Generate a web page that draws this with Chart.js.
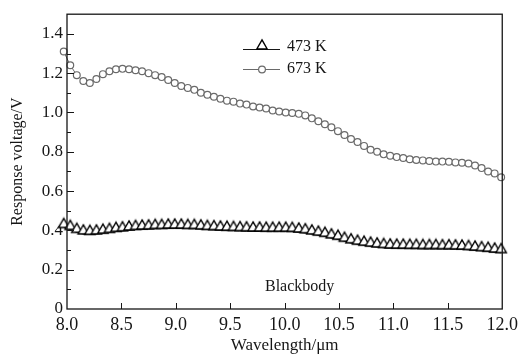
<!DOCTYPE html>
<html>
<head>
<meta charset="utf-8">
<script src="https://cdn.jsdelivr.net/npm/chart.js@4.4.0/dist/chart.umd.min.js"></script>
<style>
  html, body { margin: 0; padding: 0; background: #fff; }
  #wrap { width: 523px; height: 356px; }
</style>
</head>
<body>
<div id="wrap"><canvas id="chart" width="523" height="356"></canvas></div>
<script>
// wavelength samples (um)
const wavelength = [7.97, 8.03, 8.09, 8.15, 8.21, 8.27, 8.33, 8.39, 8.45, 8.51,
  8.57, 8.63, 8.69, 8.75, 8.81, 8.87, 8.93, 8.99, 9.05, 9.11,
  9.17, 9.23, 9.29, 9.35, 9.41, 9.47, 9.53, 9.59, 9.65, 9.71,
  9.77, 9.83, 9.89, 9.95, 10.01, 10.07, 10.13, 10.19, 10.25, 10.31,
  10.37, 10.43, 10.49, 10.55, 10.61, 10.67, 10.73, 10.79, 10.85, 10.91,
  10.97, 11.03, 11.09, 11.15, 11.21, 11.27, 11.33, 11.39, 11.45, 11.51,
  11.57, 11.63, 11.69, 11.75, 11.81, 11.87, 11.93, 11.99];

// response voltage (V) at 473 K
const v473 = [0.415, 0.405, 0.39, 0.382, 0.38, 0.382, 0.386, 0.39, 0.395, 0.398,
  0.402, 0.405, 0.407, 0.408, 0.41, 0.41, 0.412, 0.412, 0.412, 0.41,
  0.41, 0.408, 0.405, 0.404, 0.402, 0.401, 0.40, 0.399, 0.398, 0.397,
  0.397, 0.396, 0.396, 0.396, 0.396, 0.395, 0.392, 0.388, 0.382, 0.376,
  0.37, 0.362, 0.355, 0.345, 0.337, 0.33, 0.325, 0.32, 0.316, 0.313,
  0.311, 0.31, 0.31, 0.309, 0.309, 0.308, 0.308, 0.308, 0.307, 0.307,
  0.306, 0.305, 0.303, 0.30, 0.297, 0.294, 0.29, 0.287];

// response voltage (V) at 673 K
const v673 = [1.31, 1.24, 1.19, 1.16, 1.15, 1.17, 1.195, 1.21, 1.22, 1.222,
  1.22, 1.215, 1.21, 1.20, 1.19, 1.18, 1.165, 1.15, 1.135, 1.125,
  1.115, 1.10, 1.09, 1.08, 1.07, 1.06, 1.055, 1.045, 1.04, 1.03,
  1.025, 1.02, 1.01, 1.005, 1.0, 0.997, 0.993, 0.985, 0.97, 0.955,
  0.94, 0.925, 0.905, 0.885, 0.865, 0.85, 0.83, 0.81, 0.80, 0.787,
  0.78, 0.773, 0.768, 0.762, 0.758, 0.756, 0.753, 0.75, 0.75, 0.749,
  0.746, 0.744, 0.74, 0.73, 0.717, 0.70, 0.69, 0.67];

const seriesNames = ['473 K', '673 K'];
const xTickValues = [8.0, 8.5, 9.0, 9.5, 10.0, 10.5, 11.0, 11.5, 12.0];
const yTickValues = [0, 0.2, 0.4, 0.6, 0.8, 1.0, 1.2, 1.4];

const SERIF = '"Liberation Serif", "DejaVu Serif", serif';
const INK = '#161616';
const GREY = '#6a6a6a';

// triangle marker whose base sits on the data point (like the original plot)
const makeTriangle = () => {
  const c = document.createElement('canvas');
  c.width = 14; c.height = 22;
  const g = c.getContext('2d');
  g.beginPath();
  g.moveTo(7, 1.8);
  g.lineTo(12.2, 11);
  g.lineTo(1.8, 11);
  g.closePath();
  g.fillStyle = '#fff';
  g.fill();
  g.lineWidth = 1.4;
  g.lineJoin = 'miter';
  g.strokeStyle = '#000';
  g.stroke();
  return c;
};
const triangle = makeTriangle();

const framePlugin = {
  id: 'frame',
  afterDraw(chart) {
    const { ctx, chartArea: { left, right, top, bottom }, scales: { x, y } } = chart;
    ctx.save();
    ctx.strokeStyle = INK;
    ctx.lineWidth = 1.3;
    ctx.strokeRect(left, top, right - left, bottom - top);

    // inward ticks on y (major 0.2, minor 0.1)
    ctx.lineWidth = 1;
    for (let i = 1; i <= 14; i++) {
      const py = Math.round(y.getPixelForValue(i / 10)) + 0.5;
      const len = i % 2 === 0 ? 7 : 4;
      ctx.beginPath();
      ctx.moveTo(left, py);
      ctx.lineTo(left + len, py);
      ctx.stroke();
    }
    // inward ticks on x
    xTickValues.slice(1, -1).forEach(v => {
      const px = Math.round(x.getPixelForValue(v)) + 0.5;
      ctx.beginPath();
      ctx.moveTo(px, bottom);
      ctx.lineTo(px, bottom - 6);
      ctx.stroke();
    });

    // legend
    const lx0 = 243, lx1 = 280, lxm = Math.round((lx0 + lx1) / 2);
    ctx.font = '16px ' + SERIF;
    ctx.fillStyle = INK;
    ctx.textBaseline = 'middle';
    ctx.textAlign = 'left';

    ctx.strokeStyle = INK;
    ctx.lineWidth = 1.2;
    ctx.beginPath(); ctx.moveTo(lx0, 49.5); ctx.lineTo(lx1, 49.5); ctx.stroke();
    ctx.drawImage(triangle, lxm - triangle.width / 2, 49 - triangle.height / 2);
    ctx.fillText(seriesNames[0], 287, 47);

    ctx.strokeStyle = GREY;
    ctx.beginPath(); ctx.moveTo(lx0, 69.5); ctx.lineTo(lx1, 69.5); ctx.stroke();
    ctx.beginPath(); ctx.arc(lxm, 69.5, 3.4, 0, Math.PI * 2);
    ctx.fillStyle = '#fff'; ctx.fill(); ctx.stroke();
    ctx.fillStyle = INK;
    ctx.fillText(seriesNames[1], 287, 69);

    ctx.fillText('Blackbody', 265, 287);
    ctx.restore();
  }
};

new Chart(document.getElementById('chart').getContext('2d'), {
  type: 'line',
  data: {
    datasets: [
      {
        label: seriesNames[0],
        data: wavelength.map((w, i) => ({ x: w, y: v473[i] })),
        borderColor: '#000',
        borderWidth: 1.4,
        pointStyle: triangle,
        pointRadius: 5,
        clip: false,
        tension: 0
      },
      {
        label: seriesNames[1],
        data: wavelength.map((w, i) => ({ x: w, y: v673[i] })),
        borderColor: GREY,
        borderWidth: 1,
        backgroundColor: '#fff',
        pointStyle: 'circle',
        pointRadius: 3.4,
        pointBorderWidth: 1.2,
        pointBackgroundColor: '#fff',
        pointBorderColor: GREY,
        clip: false,
        tension: 0
      }
    ]
  },
  options: {
    responsive: false,
    animation: false,
    layout: { padding: { top: 7, right: 18, left: 0, bottom: 0 } },
    plugins: { legend: { display: false }, tooltip: { enabled: false } },
    scales: {
      x: {
        type: 'linear',
        min: 8, max: 12,
        afterFit: s => { s.height = 47; },
        afterBuildTicks: s => { s.ticks = xTickValues.map(v => ({ value: v })); },
        grid: { display: false, drawTicks: false },
        border: { display: false },
        ticks: {
          padding: 5,
          color: INK,
          font: { family: SERIF, size: 18 },
          callback: v => v.toFixed(1),
          maxRotation: 0
        },
        title: {
          display: true,
          text: 'Wavelength/\u03bcm',
          color: INK,
          font: { family: SERIF, size: 17 },
          padding: { top: 0, bottom: 0 }
        }
      },
      y: {
        min: 0, max: 1.5,
        afterFit: s => { s.width = 67; },
        afterBuildTicks: s => { s.ticks = yTickValues.map(v => ({ value: v })); },
        grid: { display: false, drawTicks: false },
        border: { display: false },
        ticks: {
          padding: 4,
          color: INK,
          font: { family: SERIF, size: 17 },
          callback: v => v === 0 ? '0' : v.toFixed(1)
        },
        title: {
          display: true,
          text: 'Response voltage/V',
          color: INK,
          font: { family: SERIF, size: 16 },
          padding: { top: 8, bottom: 0 }
        }
      }
    }
  },
  plugins: [framePlugin]
});
</script>
</body>
</html>
